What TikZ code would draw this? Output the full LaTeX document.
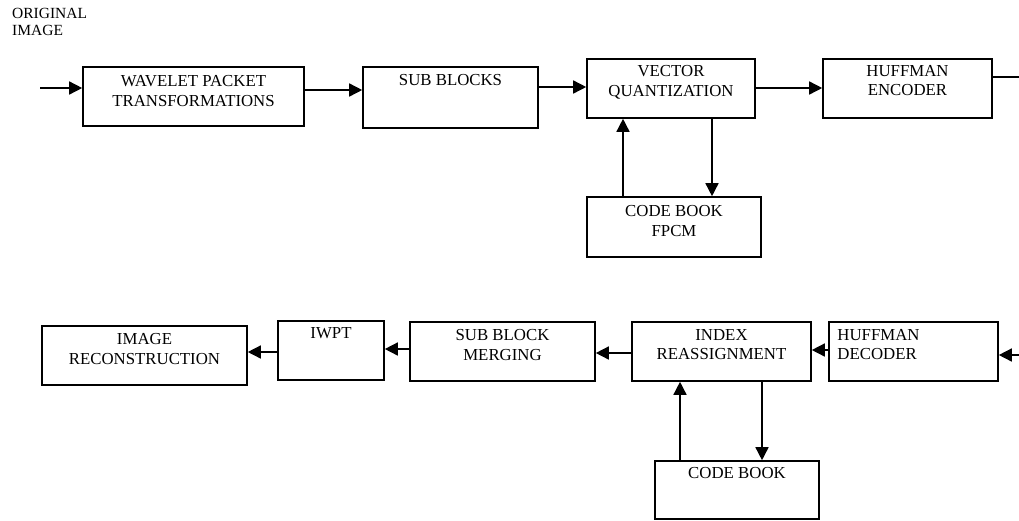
\documentclass[tikz,border=0pt]{standalone}
\usepackage{fontspec}
\setmainfont{Liberation Serif}
\usepackage{tikz}
\usetikzlibrary{arrows.meta, positioning}

\begin{document}
\begin{tikzpicture}[x=1pt, y=-1pt,
	blk/.style={draw, line width=1.6pt, inner sep=0pt},
	txt/.style={anchor=north, align=center, inner sep=0pt, font=\fontsize{16.8}{19.5}\selectfont},
	arr/.style={line width=1.5pt, -{Triangle[length=13pt, width=13pt]}},
	ln/.style={line width=1.5pt}]
				\useasboundingbox (0,0) rectangle (1019,520);
				% input label
				\node[anchor=north west, align=left, inner sep=0pt,
				font=\fontsize{15.5}{17}\selectfont] (orig) at (12,8) {ORIGINAL\\IMAGE};
				% compression chain
				\node[blk, minimum width=221pt, minimum height=59pt] (wpt) at (193.5,96.5) {};
				\node[txt, yshift=-9pt] (wpttxt) at (wpt.north) {WAVELET PACKET\\TRANSFORMATIONS};
				\node[blk, minimum width=175pt, minimum height=61pt] (sub) at (450.5,97.5) {};
				\node[txt, yshift=-8pt] (subtxt) at (sub.north) {SUB BLOCKS};
				\node[blk, minimum width=168pt, minimum height=59pt] (vq) at (671,88.5) {};
				\node[txt, yshift=-7pt] (vqtxt) at (vq.north) {VECTOR\\QUANTIZATION};
				\node[blk, minimum width=169pt, minimum height=59pt] (huf) at (907.5,88.5) {};
				\node[txt, yshift=-7pt] (huftxt) at (huf.north) {HUFFMAN\\ENCODER};
				\node[blk, minimum width=174pt, minimum height=60pt] (cbf) at (674,227) {};
				\node[txt, yshift=-9pt] (cbftxt) at (cbf.north) {CODE BOOK\\FPCM};
				% decompression chain
				\node[blk, minimum width=205pt, minimum height=59pt] (rec) at (144.5,355.5) {};
				\node[txt, yshift=-8pt] (rectxt) at (rec.north) {IMAGE\\RECONSTRUCTION};
				\node[blk, minimum width=106pt, minimum height=59pt] (iwpt) at (331,350.5) {};
				\node[txt, yshift=-7pt] (iwpttxt) at (iwpt.north) {IWPT};
				\node[blk, minimum width=185pt, minimum height=59pt] (sbm) at (502.5,351.5) {};
				\node[txt, yshift=-8pt] (sbmtxt) at (sbm.north) {SUB BLOCK\\MERGING};
				\node[blk, minimum width=179pt, minimum height=59pt] (ira) at (721.5,351.5) {};
				\node[txt, yshift=-8pt] (iratxt) at (ira.north) {INDEX\\REASSIGNMENT};
				\node[blk, minimum width=169pt, minimum height=59pt] (hd) at (913.5,351.5) {};
				\node[txt, anchor=north west, align=left, xshift=9pt, yshift=-8pt] (hdtxt) at (hd.north west) {HUFFMAN\\DECODER};
				\node[blk, minimum width=164pt, minimum height=58pt] (cb) at (737,490) {};
				\node[txt, yshift=-7pt] (cbtxt) at (cb.north) {CODE BOOK};
				% connectors, top
				\coordinate (in) at (40,88);
				\coordinate (out) at (1019,77);
				\draw[arr] (in) -- (in -| wpt.west);
				\draw[arr] ([yshift=6.5pt]wpt.east) -- ([yshift=7.5pt]sub.west);
				\draw[arr] ([yshift=10.5pt]sub.east) -- ([yshift=1.5pt]vq.west);
				\draw[arr] ([yshift=0.5pt]vq.east) -- ([yshift=0.5pt]huf.west);
				\draw[ln] (huf.east |- out) -- (out);
				\draw[arr] ([xshift=-51pt]cbf.north) -- ([xshift=-48pt]vq.south);
				\draw[arr] ([xshift=41pt]vq.south) -- ([xshift=38pt]cbf.north);
				% connectors, bottom
				\coordinate (in2) at (1019,355);
				\draw[arr] (in2) -- (in2 -| hd.east);
				\draw[arr] ([yshift=1.5pt]hd.west) -- ([yshift=1.5pt]ira.east);
				\draw[arr] ([yshift=-1.5pt]ira.west) -- ([yshift=-1.5pt]sbm.east);
				\draw[arr] ([yshift=2.5pt]sbm.west) -- ([yshift=1.5pt]iwpt.east);
				\draw[arr] ([yshift=-1.5pt]iwpt.west) -- ([yshift=3.5pt]rec.east);
				\draw[arr] ([xshift=-57pt]cb.north) -- ([xshift=-41.5pt]ira.south);
				\draw[arr] ([xshift=40.5pt]ira.south) -- ([xshift=25pt]cb.north);
\end{tikzpicture}
\end{document}
